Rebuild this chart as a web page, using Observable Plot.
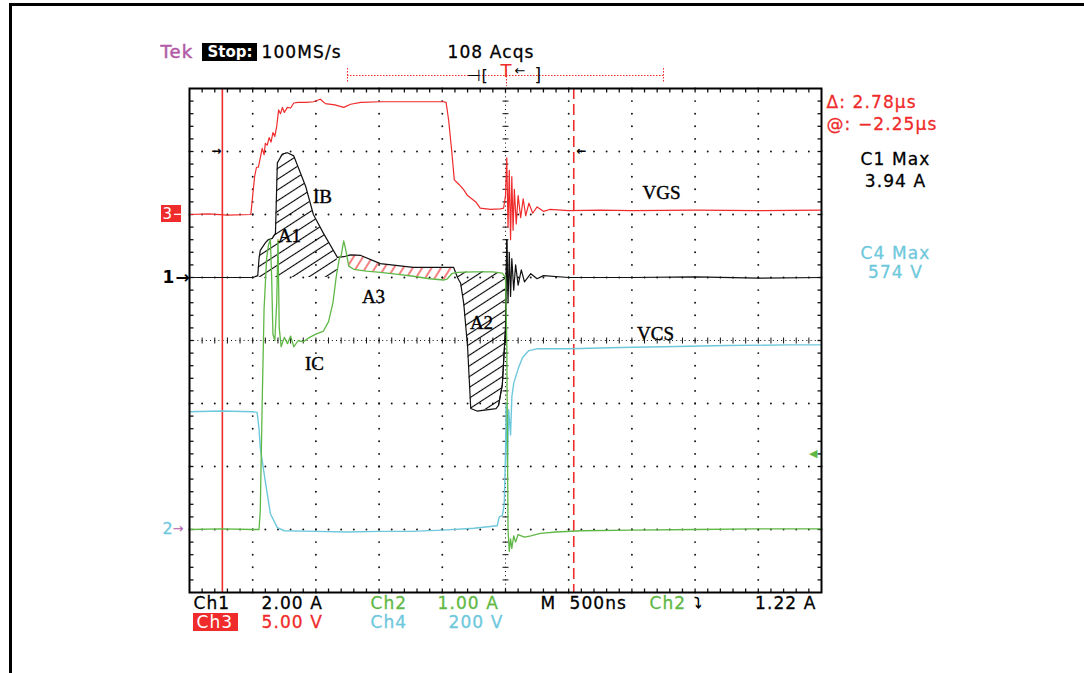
<!DOCTYPE html>
<html><head><meta charset="utf-8">
<script src="https://cdn.jsdelivr.net/npm/d3@7"></script>
<script src="https://cdn.jsdelivr.net/npm/@observablehq/plot@0.6"></script>
<style>
html,body{margin:0;padding:0;background:#fff;}
#wrap{position:relative;width:1084px;height:673px;overflow:hidden;}
#border{position:absolute;left:9px;top:3px;width:1200px;height:800px;border-top:3px solid #000;border-left:3px solid #000;pointer-events:none;}
#wrap svg{position:absolute;left:0;top:0;}
#wrap svg text{letter-spacing:1.1px;}
#wrap svg text.serif{letter-spacing:0;}
#wrap svg text.tight{letter-spacing:0;}
</style></head><body><div id="wrap"><div id="border"></div></div>
<script>
// ---- data: [time (div, 500 ns/div), level (div)] ----
const vgs = [[0,6.0],[0.3,6.01],[0.6,5.99],[0.97,6.0],[1.0,6.3],[1.03,6.6],[1.06,6.75],[1.09,6.75],[1.12,6.9],[1.15,7.05],[1.18,6.95],[1.20,7.13],[1.23,7.1],[1.26,7.22],[1.29,7.15],[1.32,7.3],[1.35,7.24],[1.38,7.4],[1.41,7.66],[1.44,7.6],[1.47,7.7],[1.50,7.62],[1.55,7.7],[1.60,7.69],[1.65,7.77],[1.72,7.78],[1.85,7.78],[1.96,7.79],[2.07,7.83],[2.15,7.76],[2.3,7.74],[2.44,7.70],[2.55,7.75],[2.71,7.78],[3.02,7.79],[3.5,7.79],[4.02,7.79],[4.06,7.78],[4.10,7.5],[4.15,7.0],[4.19,6.55],[4.24,6.5],[4.29,6.45],[4.34,6.39],[4.40,6.30],[4.53,6.2],[4.60,6.1],[4.76,6.08],[4.92,6.09],[4.97,6.1],[5.0,6.3],[5.02,6.9],[5.04,5.8],[5.06,6.7],[5.08,5.6],[5.10,6.6],[5.12,5.75],[5.14,6.4],[5.17,5.85],[5.20,6.3],[5.24,5.95],[5.28,6.25],[5.32,5.98],[5.37,6.18],[5.43,6.02],[5.5,6.12],[5.6,6.05],[5.7,6.08],[6,6.06],[6.5,6.07],[7,6.06],[8,6.07],[9,6.06],[10,6.07]];
const ib = [[0,5.0],[0.5,5.0],[1.0,5.0],[1.08,5.03],[1.10,5.3],[1.12,5.43],[1.2,5.55],[1.25,5.6],[1.31,5.62],[1.36,5.7],[1.39,6.82],[1.47,6.96],[1.55,6.98],[1.65,6.93],[1.72,6.75],[1.84,6.44],[1.96,6.0],[2.12,5.70],[2.34,5.32],[2.44,5.33],[2.55,5.36],[2.71,5.35],[3.02,5.22],[3.54,5.16],[4.02,5.16],[4.18,5.16],[4.24,5.0],[4.29,4.91],[4.34,4.58],[4.40,3.9],[4.45,2.92],[4.55,2.88],[4.7,2.9],[4.85,2.92],[4.89,2.97],[4.95,3.3],[5.0,4.2],[5.02,5.6],[5.04,4.6],[5.06,5.4],[5.08,4.7],[5.10,5.3],[5.13,4.8],[5.16,5.2],[5.2,4.88],[5.25,5.12],[5.3,4.93],[5.4,5.06],[5.5,4.98],[5.6,5.03],[6,5.0],[7,5.0],[8,5.01],[9,4.99],[10,5.0]];
const ic = [[0,1.0],[0.5,1.01],[1.0,1.0],[1.10,1.0],[1.12,1.3],[1.15,3.0],[1.18,4.5],[1.22,5.3],[1.25,5.52],[1.28,5.6],[1.30,5.0],[1.32,4.1],[1.35,4.0],[1.38,4.6],[1.40,5.6],[1.42,4.2],[1.45,3.9],[1.5,4.05],[1.55,3.95],[1.6,4.07],[1.65,3.9],[1.72,4.0],[1.8,3.98],[1.9,4.05],[2.0,4.1],[2.12,4.15],[2.2,4.3],[2.27,4.6],[2.32,5.0],[2.37,5.3],[2.40,5.35],[2.44,5.58],[2.47,5.45],[2.52,5.18],[2.6,5.13],[2.8,5.1],[3.02,5.08],[3.3,5.05],[3.54,5.02],[3.8,4.98],[4.02,4.96],[4.08,4.98],[4.15,5.06],[4.24,5.08],[4.5,5.09],[4.8,5.09],[4.95,5.07],[5.0,5.0],[5.02,4.0],[5.03,2.5],[5.04,1.0],[5.06,0.65],[5.08,0.85],[5.10,0.7],[5.13,0.9],[5.16,0.8],[5.2,0.92],[5.3,0.88],[5.4,0.9],[5.55,0.94],[5.8,0.96],[6.2,0.98],[7,0.99],[8,1.0],[9,1.01],[10,1.01]];
const vcs = [[0,2.87],[0.5,2.88],[1.0,2.87],[1.07,2.86],[1.10,2.6],[1.12,2.3],[1.2,1.76],[1.28,1.25],[1.39,1.03],[1.5,0.98],[2,0.97],[2.5,0.96],[3,0.97],[3.5,0.97],[4,0.99],[4.5,1.02],[4.87,1.06],[4.9,1.2],[4.95,1.22],[4.98,1.4],[5.0,2.2],[5.01,3.0],[5.02,2.6],[5.03,2.0],[5.05,2.9],[5.08,2.5],[5.10,3.1],[5.13,3.32],[5.2,3.55],[5.27,3.73],[5.37,3.84],[5.51,3.87],[5.76,3.87],[6.03,3.87],[6.82,3.89],[7.5,3.9],[8.5,3.92],[9.5,3.93],[10,3.93]];
const ch1Base = 5.0, ch2Base = 1.0, ch3Base = 6.0;
const cursorA = 0.52, cursorB = 6.08;
const headerTexts = ["Tek", "Stop:", "100MS/s", "108 Acqs"];
const readouts = ["Δ: 2.78μs", "@: −2.25μs", "C1 Max", "3.94 A", "C4 Max", "574 V"];
const scaleRow1 = ["Ch1", "2.00 A", "Ch2", "1.00 A", "M", "500ns", "Ch2", "⤵", "1.22 A"];
const scaleRow2 = ["Ch3", "5.00 V", "Ch4", "200 V"];
const traceLabels = ["IB", "A1", "A3", "A2", "IC", "VGS", "VCS"];

// ---- layout ----
const W = 1084, H = 673, ML = 189, MR = 263, MT = 88, MB = 81;
const X = px => (px - ML) / (W - ML - MR) * 10;
const Y = py => (H - MB - py) / (H - MT - MB) * 8;
const RED = "#ef2b2b", GREEN = "#5fb845", CYAN = "#6ec8dc", MAG = "#b25aa6";
const SANS = "DejaVu Sans", SERIF = "Liberation Serif";

function label(str, px, py, o = {}) {
  return Plot.text([str], {x: X(px), y: Y(py), text: d => d, textAnchor: o.anchor || "start",
    lineAnchor: "middle", fill: o.fill || "#000", fontSize: o.size || 17, fontFamily: o.font || SANS,
    fontWeight: o.weight || "normal",
    stroke: o.halo ? (o.fill || "#000") : null, strokeWidth: o.halo || 0});
}
function interp(s, t) {
  const i = d3.bisector(d => d[0]).right(s, t);
  if (i <= 0) return s[0][1];
  if (i >= s.length) return s[s.length - 1][1];
  const [t0, v0] = s[i - 1], [t1, v1] = s[i];
  return t1 === t0 ? v1 : v0 + (v1 - v0) * (t - t0) / (t1 - t0);
}
function band(a, b, lo, hi) {
  const ts = Array.from(new Set([lo, hi, ...a.map(d => d[0]), ...b.map(d => d[0])]
    .filter(t => t >= lo && t <= hi))).sort((p, q) => p - q);
  return ts.map(t => ({t, a: interp(a, t), b: interp(b, t)}));
}
const regionA1 = band(ib, ib, 1.08, 2.34).map(d => ({...d, b: ch1Base}));
const regionA3 = band(ib, ic, 2.52, 4.2);
const regionA2 = band(ib, ic, 4.24, 5.03);

// grid dots and ticks
const majX = d3.range(1, 10).filter(v => v !== 5), majY = d3.range(1, 8).filter(v => v !== 4);
const fineX = d3.range(0, 50.5).map(i => i / 5), fineY = d3.range(0, 40.5).map(i => i / 5);
const gridPts = [...majX.flatMap(x => fineY.map(y => [x, y])), ...majY.flatMap(y => fineX.map(x => [x, y]))];
const sym = (dx1, dy1, dx2, dy2) => ({draw(ctx) { ctx.moveTo(dx1, dy1); ctx.lineTo(dx2, dy2); }});
const tickDown = sym(0, 0, 0, 4), tickUp = sym(0, 0, 0, -4), tickRight = sym(0, 0, 4, 0), tickLeft = sym(0, 0, -4, 0);
const tickV = sym(0, -3, 0, 3), tickH = sym(-3, 0, 3, 0);
const innerX = fineX.filter(v => v > 0 && v < 10), innerY = fineY.filter(v => v > 0 && v < 8);

const marks = [
  // grid
  Plot.dot(gridPts, {x: d => d[0], y: d => d[1], r: 0.95, fill: "#111", stroke: null}),
  Plot.ruleX([5], {stroke: "#111", strokeDasharray: "1,3.2"}),
  Plot.ruleY([4], {stroke: "#111", strokeDasharray: "1,3.2"}),
  Plot.dot(innerX, {x: d => d, y: 4, symbol: tickV, stroke: "#111", strokeWidth: 1}),
  Plot.dot(innerY, {x: 5, y: d => d, symbol: tickH, stroke: "#111", strokeWidth: 1}),
  Plot.dot(innerX, {x: d => d, y: 8, symbol: tickDown, stroke: "#111", strokeWidth: 1.3}),
  Plot.dot(innerX, {x: d => d, y: 0, symbol: tickUp, stroke: "#111", strokeWidth: 1.3}),
  Plot.dot(innerY, {x: 0, y: d => d, symbol: tickRight, stroke: "#111", strokeWidth: 1.3}),
  Plot.dot(innerY, {x: 10, y: d => d, symbol: tickLeft, stroke: "#111", strokeWidth: 1.3}),
  // hatched regions
  Plot.areaY(regionA1, {x: "t", y1: "b", y2: "a", fill: "url(#hatchK)"}),
  Plot.areaY(regionA3, {x: "t", y1: "b", y2: "a", fill: "url(#hatchR)"}),
  Plot.areaY(regionA2, {x: "t", y1: "a", y2: "b", fill: "url(#hatchK)"}),
  Plot.line(regionA2.filter(d => d.t > 4.86), {x: "t", y: "a", stroke: "#000", strokeWidth: 1}),
  // cursors
  Plot.ruleX([cursorA], {stroke: RED, strokeWidth: 1.6}),
  Plot.ruleX([cursorB], {stroke: RED, strokeWidth: 1.6, strokeDasharray: "11,5"}),
  // traces
  Plot.line(vcs, {x: d => d[0], y: d => d[1], stroke: CYAN, strokeWidth: 1.4}),
  Plot.line(vgs, {x: d => d[0], y: d => d[1], stroke: RED, strokeWidth: 1.2}),
  Plot.line(ib, {x: d => d[0], y: d => d[1], stroke: "#111", strokeWidth: 1.2}),
  Plot.line(ic, {x: d => d[0], y: d => d[1], stroke: GREEN, strokeWidth: 1.3}),
  Plot.frame({stroke: "#000", strokeWidth: 2}),
  // trace labels (serif)
  ...[[322, 196], [289, 235], [373, 296], [481, 322], [314, 363], [661, 192], [655, 333]]
    .map(([px, py], i) => label(traceLabels[i], px, py, {anchor: "middle", font: SERIF, size: 19, halo: 0.4})),
  // header
  Plot.rect([0], {x1: X(202), x2: X(257), y1: Y(61), y2: Y(43), fill: "#000"}),
  label(headerTexts[0], 160, 52, {fill: MAG, size: 18, halo: 0.5}),
  label(headerTexts[1], 229.5, 52, {fill: "#fff", size: 15, weight: "bold", anchor: "middle"}),
  label(headerTexts[2], 261, 52, {size: 17, halo: 0.3}),
  label(headerTexts[3], 447, 52, {size: 17, halo: 0.3}),
  // record bar
  Plot.ruleY([Y(75)], {x1: X(347), x2: X(663), stroke: RED, strokeDasharray: "1.5,1.5"}),
  Plot.ruleX([X(347), X(663)], {y1: Y(68), y2: Y(82), stroke: RED, strokeDasharray: "1.5,1.5"}),
  Plot.ruleX([X(506)], {y1: Y(70), y2: Y(86), stroke: RED, strokeDasharray: "1.5,1.5"}),
  label("⊣[", 466, 75, {size: 16}),
  label("T", 506, 71, {fill: RED, size: 18, anchor: "middle"}),
  label("←", 514, 70, {size: 13}),
  label("]", 534, 75, {size: 17}),
  // trigger arrows
  label("→", 222, 151, {size: 12, anchor: "end", weight: "bold"}),
  label("←", 576, 151, {size: 12, weight: "bold"}),
  label("◀", 818, 453, {size: 11, anchor: "end", fill: GREEN}),
  // channel markers
  Plot.rect([0], {x1: X(161), x2: X(181), y1: Y(222), y2: Y(205), fill: RED}),
  label("3→", 162, 214, {fill: "#fff", size: 15}),
  label("1→", 162, 277, {size: 17, weight: "bold"}),
  label("2", 162, 528, {fill: CYAN, size: 16, halo: 0.3}),
  label("→", 172, 528, {fill: MAG, size: 13}),
  // readouts
  label(readouts[0], 826, 102, {fill: RED, size: 17, halo: 0.3}),
  label(readouts[1], 826, 124, {fill: RED, size: 17, halo: 0.3}),
  label(readouts[2], 895, 159, {size: 17, anchor: "middle", halo: 0.3}),
  label(readouts[3], 895, 181, {size: 17, anchor: "middle", halo: 0.3}),
  label(readouts[4], 895, 253, {fill: CYAN, size: 17, anchor: "middle", halo: 0.3}),
  label(readouts[5], 895, 272, {fill: CYAN, size: 17, anchor: "middle", halo: 0.3}),
  // scale row 1
  label(scaleRow1[0], 193, 603, {halo: 0.3}),
  label(scaleRow1[1], 261, 603, {halo: 0.3}),
  label(scaleRow1[2], 370, 603, {fill: GREEN, halo: 0.3}),
  label(scaleRow1[3], 437, 603, {fill: GREEN, halo: 0.3}),
  label(scaleRow1[4], 540, 603, {halo: 0.3}),
  label(scaleRow1[5], 569, 603, {halo: 0.3}),
  label(scaleRow1[6], 649, 603, {fill: GREEN, halo: 0.3}),
  label(scaleRow1[7], 693, 603, {size: 15, weight: "bold"}),
  label(scaleRow1[8], 816, 603, {anchor: "end", halo: 0.3}),
  // scale row 2
  Plot.rect([0], {x1: X(193), x2: X(238), y1: Y(631), y2: Y(613), fill: RED}),
  label(scaleRow2[0], 196, 622, {fill: "#fff"}),
  label(scaleRow2[1], 261, 622, {fill: RED, halo: 0.3}),
  label(scaleRow2[2], 370, 622, {fill: CYAN, halo: 0.3}),
  label(scaleRow2[3], 503, 622, {fill: CYAN, anchor: "end", halo: 0.3})
];

const svg = Plot.plot({
  width: W, height: H,
  marginLeft: ML, marginRight: MR, marginTop: MT, marginBottom: MB,
  x: {domain: [0, 10], axis: null},
  y: {domain: [0, 8], axis: null},
  style: {background: "transparent", overflow: "visible"},
  marks
});
// serif trace labels keep normal spacing
d3.select(svg).selectAll("text").filter(function() { return traceLabels.includes(this.textContent); }).classed("serif", true);
d3.select(svg).selectAll("text").filter(function() { return this.textContent === "Stop:"; }).classed("tight", true);
const defs = d3.select(svg).insert("defs", ":first-child");
const pk = defs.append("pattern").attr("id", "hatchK").attr("patternUnits", "userSpaceOnUse")
  .attr("width", 12).attr("height", 9).attr("patternTransform", "rotate(-33)");
pk.append("line").attr("x1", 0).attr("y1", 4.5).attr("x2", 12).attr("y2", 4.5).attr("stroke", "#000").attr("stroke-width", 1.1);
const pr = defs.append("pattern").attr("id", "hatchR").attr("patternUnits", "userSpaceOnUse")
  .attr("width", 12).attr("height", 8).attr("patternTransform", "rotate(-58)");
pr.append("line").attr("x1", 0).attr("y1", 4).attr("x2", 12).attr("y2", 4).attr("stroke", RED).attr("stroke-width", 1.2);
document.getElementById("wrap").appendChild(svg);
</script></body></html>
